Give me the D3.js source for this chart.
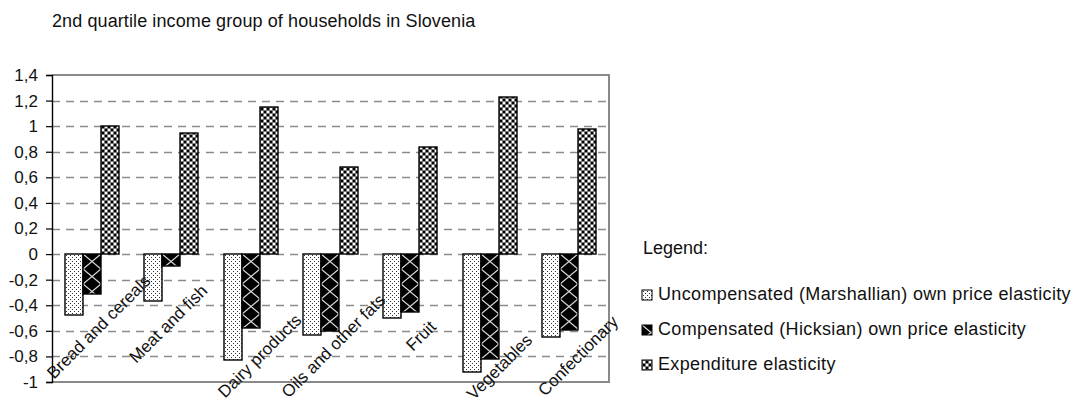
<!DOCTYPE html>
<html>
<head>
<meta charset="utf-8">
<script src="https://cdn.jsdelivr.net/npm/d3@7"></script>
<style>
  body { margin: 0; background: #fff; }
  svg { display: block; font-family: "Liberation Sans", Arial, sans-serif; }
</style>
</head>
<body>
<div id="chart"></div>
<script>
// data
const categories = ["Bread and cereals", "Meat and fish", "Dairy products", "Oils and other fats", "Fruit", "Vegetables", "Confectionary"];
const uncompensated = [-0.48, -0.37, -0.83, -0.63, -0.50, -0.92, -0.65];
const compensated = [-0.31, -0.09, -0.58, -0.60, -0.45, -0.82, -0.59];
const expenditure = [1.00, 0.95, 1.15, 0.68, 0.84, 1.23, 0.98];
const seriesNames = [
  "Uncompensated (Marshallian) own price elasticity",
  "Compensated (Hicksian) own price elasticity",
  "Expenditure elasticity"
];
const yTicks = [1.4, 1.2, 1, 0.8, 0.6, 0.4, 0.2, 0, -0.2, -0.4, -0.6, -0.8, -1];
const title = "2nd quartile income group of households in Slovenia";

// label nudges (the rotated category labels sit at uneven heights in the original)
const labelShift = [[7, -55], [-3, -58], [9, -26], [3, -36], [11, -46], [10, -15], [9, -26]];

const W = 1078, H = 407;
const plot = { left: 52, right: 609, top: 75, bottom: 382 };

const svg = d3.select("#chart").append("svg").attr("width", W).attr("height", H);

const x = d3.scaleBand().domain(categories).range([plot.left, plot.right]).paddingInner(0);
const xs = d3.scaleBand().domain([0, 1, 2]).range([0, x.bandwidth()]).paddingOuter(0.71);
const y = d3.scaleLinear().domain([-1, 1.4]).range([plot.bottom, plot.top]);
const bw = Math.round(xs.bandwidth());

// fill patterns
const defs = svg.append("defs");
const pUnc = defs.append("pattern").attr("id", "pUnc").attr("patternUnits", "userSpaceOnUse")
  .attr("width", 4).attr("height", 4);
pUnc.append("rect").attr("width", 4).attr("height", 4).attr("fill", "#fff");
pUnc.append("rect").attr("x", 1).attr("y", 1).attr("width", 1).attr("height", 1).attr("fill", "#333");
pUnc.append("rect").attr("x", 3).attr("y", 3).attr("width", 1).attr("height", 1).attr("fill", "#333");

const pComp = defs.append("pattern").attr("id", "pComp").attr("patternUnits", "userSpaceOnUse")
  .attr("width", bw).attr("height", 15);
pComp.append("rect").attr("width", bw).attr("height", 15).attr("fill", "#000");
pComp.append("path").attr("d", `M0,0L${bw},15M${bw},0L0,15`)
  .attr("stroke", "#d8d8d8").attr("stroke-width", 1.3).attr("fill", "none");

const pExp = defs.append("pattern").attr("id", "pExp").attr("patternUnits", "userSpaceOnUse")
  .attr("width", 6).attr("height", 6);
pExp.append("rect").attr("width", 6).attr("height", 6).attr("fill", "#7a7a7a");
pExp.append("rect").attr("x", 1).attr("y", 1).attr("width", 2).attr("height", 2).attr("fill", "#fff");
pExp.append("rect").attr("x", 4).attr("y", 4).attr("width", 2).attr("height", 2).attr("fill", "#fff");
pExp.append("rect").attr("x", 4).attr("y", 1).attr("width", 2).attr("height", 2).attr("fill", "#000");
pExp.append("rect").attr("x", 1).attr("y", 4).attr("width", 2).attr("height", 2).attr("fill", "#000");

const fills = ["url(#pUnc)", "url(#pComp)", "url(#pExp)"];
const series = [uncompensated, compensated, expenditure];

// title
svg.append("text")
  .attr("x", 52).attr("y", 27)
  .attr("font-size", "18px").attr("letter-spacing", "0.1px").attr("fill", "#111")
  .text(title);

// gridlines
svg.append("g")
  .selectAll("line")
  .data(yTicks.filter((d) => d !== 1.4 && d !== -1))
  .enter()
  .append("line")
  .attr("x1", plot.left).attr("x2", plot.right)
  .attr("y1", (d) => Math.round(y(d)) + 0.5).attr("y2", (d) => Math.round(y(d)) + 0.5)
  .attr("stroke", "#8c8c8c").attr("stroke-width", 1.3)
  .attr("stroke-dasharray", "8,6");

// plot frame (top, right, bottom)
svg.append("path")
  .attr("d", `M${plot.left},${plot.top}H${plot.right}V${plot.bottom}H${plot.left}`)
  .attr("fill", "none").attr("stroke", "#8a8a8a").attr("stroke-width", 2);

// bars
const barData = [];
categories.forEach((c, i) => {
  series.forEach((s, k) => barData.push({ cat: c, k: k, value: s[i] }));
});

const bars = svg.append("g")
  .selectAll("g")
  .data(barData)
  .enter()
  .append("g")
  .attr("transform", (d) => `translate(${Math.round(x(d.cat) + xs(d.k))},${Math.round(y(0))})`);

bars.append("rect")
  .attr("x", 0)
  .attr("y", (d) => (d.value >= 0 ? Math.round(y(d.value)) - Math.round(y(0)) : 0))
  .attr("width", bw)
  .attr("height", (d) => Math.abs(Math.round(y(d.value)) - Math.round(y(0))))
  .attr("fill", (d) => fills[d.k])
  .attr("stroke", "#000").attr("stroke-width", 1.4);

// y axis
const yAxis = svg.append("g")
  .attr("transform", `translate(${plot.left},0)`)
  .call(d3.axisLeft(y).tickValues(yTicks).tickSize(6).tickPadding(8)
    .tickFormat((d) => String(+d.toFixed(1)).replace(".", ",")));
yAxis.select(".domain").attr("stroke", "#000").attr("stroke-width", 1.4);
yAxis.selectAll(".tick line").attr("stroke", "#000").attr("stroke-width", 1.2);
yAxis.selectAll(".tick text").attr("font-size", "17px").attr("fill", "#111")
  .attr("font-family", "Liberation Sans, Arial, sans-serif");

// category labels, rotated
svg.append("g")
  .selectAll("text")
  .data(categories)
  .enter()
  .append("text")
  .attr("transform", (d, i) =>
    `translate(${x(d) + x.bandwidth() / 2 + labelShift[i][0]},${plot.bottom + labelShift[i][1]}) rotate(-45)`)
  .attr("text-anchor", "middle")
  .attr("dominant-baseline", "central")
  .attr("font-size", "17px").attr("fill", "#111")
  .text((d) => d);

// legend
const legend = svg.append("g").attr("transform", "translate(642,0)");
legend.append("text")
  .attr("x", 1).attr("y", 254)
  .attr("font-size", "18px").attr("fill", "#111")
  .text("Legend:");

const items = legend.selectAll(".item")
  .data(seriesNames)
  .enter()
  .append("g")
  .attr("class", "item")
  .attr("transform", (d, i) => `translate(0,${290 + i * 35})`);

items.append("rect")
  .attr("width", 10).attr("height", 10)
  .attr("fill", (d, i) => fills[i])
  .attr("stroke", "#000").attr("stroke-width", 1);

items.append("text")
  .attr("x", 16).attr("y", 10)
  .attr("font-size", "18px").attr("letter-spacing", "0.35px").attr("fill", "#111")
  .text((d) => d);
</script>
</body>
</html>
